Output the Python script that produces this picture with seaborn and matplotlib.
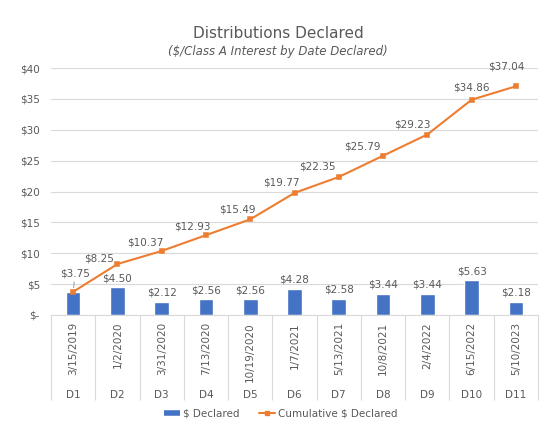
import numpy as np
import pandas as pd
import matplotlib.pyplot as plt
import matplotlib.transforms as mtransforms
from matplotlib.lines import Line2D
import seaborn as sns

# data
codes = ["D1", "D2", "D3", "D4", "D5", "D6", "D7", "D8", "D9", "D10", "D11"]
dates = ["3/15/2019", "1/2/2020", "3/31/2020", "7/13/2020", "10/19/2020", "1/7/2021",
         "5/13/2021", "10/8/2021", "2/4/2022", "6/15/2022", "5/10/2023"]
declared = [3.75, 4.50, 2.12, 2.56, 2.56, 4.28, 2.58, 3.44, 3.44, 5.63, 2.18]
cumulative = [3.75, 8.25, 10.37, 12.93, 15.49, 19.77, 22.35, 25.79, 29.23, 34.86, 37.04]

# label nudges (pixels) for the cumulative labels, as placed in the original
lbl_dx = [2, -18, -16, -14, -13, -13, -21, -21, -15, 0, -10]
lbl_dy = [18, 6, 8, 9, 10, 10, 10, 9, 10, 12, 20]

df = pd.DataFrame({"code": codes, "declared": declared, "cumulative": cumulative})

sns.set_style("white")
plt.rcParams['font.family'] = ['DejaVu Sans']
txt = "#595959"
grid = "#d9d9d9"
blue = "#4472C4"
orange = "#ED7D31"

fig = plt.figure(figsize=(5.56, 4.43), dpi=100)
ax = fig.add_axes([51 / 556, 1 - 315 / 443, 487 / 556, 247 / 443])

sns.barplot(data=df, x="code", y="declared", color=blue, width=0.33, saturation=1, ax=ax, zorder=2)
sns.pointplot(data=df, x="code", y="cumulative", color=orange, markers="s", markersize=3.5,
              linewidth=1.5, ax=ax)
for ln in ax.lines:
    ln.set_zorder(3)

ax.set_xlim(-0.5, len(codes) - 0.5)
ax.set_ylim(0, 40)
ax.set_yticks(np.arange(0, 41, 5))
ax.set_yticklabels(["$-" if v == 0 else f"${v}" for v in range(0, 41, 5)])
ax.yaxis.grid(True, color=grid, lw=0.8, zorder=0)
ax.set_axisbelow(True)
ax.tick_params(axis="y", length=0, pad=8, labelsize=7.5, labelcolor=txt)
ax.set_xticks(range(len(codes)))
ax.set_xticklabels(dates, rotation=90)
ax.tick_params(axis="x", length=0, pad=5, labelsize=7.5, labelcolor=txt)
ax.set_xlabel("")
ax.set_ylabel("")
for s in ["left", "right", "top"]:
    ax.spines[s].set_visible(False)
ax.spines["bottom"].set_color(grid)
ax.spines["bottom"].set_linewidth(0.8)

# bar value labels (the first one is shared with the cumulative label)
ax.bar_label(ax.containers[0], labels=[""] + [f"${v:.2f}" for v in declared[1:]], padding=3,
             fontsize=7.5, color=txt)

# cumulative value labels
for i, v in enumerate(cumulative):
    kw = {}
    if i == 0:
        kw["arrowprops"] = dict(arrowstyle="-", color="#a6a6a6", lw=0.8, shrinkA=0, shrinkB=3)
    ax.annotate(f"${v:.2f}", xy=(i, v), xytext=(lbl_dx[i], lbl_dy[i]), textcoords="offset pixels",
                ha="center", va="center", fontsize=7.5, color=txt, **kw)

# second category level and separators
trans = mtransforms.blended_transform_factory(ax.transData, ax.transAxes)
for i, c in enumerate(codes):
    ax.annotate(c, xy=(i, 0), xycoords=trans, xytext=(0, -80), textcoords="offset pixels",
                ha="center", va="center", fontsize=7.5, color=txt, annotation_clip=False)
ax.vlines(np.arange(len(codes) + 1) - 0.5, -85 / 247, 0, transform=trans, colors=grid,
          lw=0.8, clip_on=False)

fig.text(0.5, 1 - 33 / 443, "Distributions Declared", ha="center", va="center",
         fontsize=11, color=txt)
fig.text(0.5, 1 - 51 / 443, "($/Class A Interest by Date Declared)", ha="center", va="center",
         fontsize=8.5, color=txt, style="italic")

handles = [Line2D([], [], color=blue, lw=4, solid_capstyle="butt"),
           Line2D([], [], color=orange, lw=1.5, marker="s", markersize=3.5)]
fig.legend(handles, ["$ Declared", "Cumulative $ Declared"], loc="center",
           bbox_to_anchor=(0.505, 1 - 414 / 443), ncol=2, frameon=False, fontsize=7.5,
           labelcolor=txt, handlelength=1.6, handletextpad=0.3, columnspacing=1.8)

fig.savefig("out.png", dpi=100, facecolor="white")
